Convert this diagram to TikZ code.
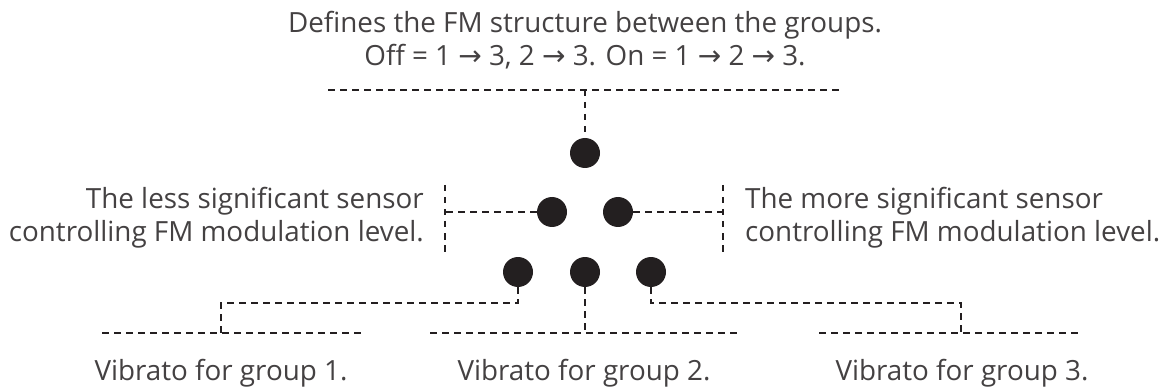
\documentclass[tikz,border=0pt]{standalone}
\usepackage{fontspec}
\setmainfont{Open Sans}
\newfontfamily\arrowfont{DejaVu Sans}
\newcommand{\toarr}{{\arrowfont\fontsize{28}{33}\selectfont →}}
\definecolor{ink}{HTML}{231F20}
\tikzset{
  dot/.style={circle, fill=ink, minimum size=30pt, inner sep=0pt},
  lead/.style={draw=ink, line width=1.3pt, dash pattern=on 6.5pt off 5.5pt},
  note/.style={text=ink!85, font=\fontsize{27.8}{33}\selectfont, inner sep=0pt}
}
\begin{document}
\begin{tikzpicture}[x=1pt,y=-1pt]
    % Fix the canvas to the reference size
    \useasboundingbox (0,0) rectangle (1167,390);
    % Sensor dots
    \node[dot] (top)  at (585,153) {};
    \node[dot] (midl) at (552,212) {};
    \node[dot] (midr) at (618,212) {};
    \node[dot] (botl) at (518,272) {};
    \node[dot] (botm) at (585,272) {};
    \node[dot] (botr) at (651,272) {};
    % Texts (base anchor sits on the last line)
    \node[note, anchor=base, align=center] (fmtext) at (585,66)
        {Defines the FM structure between the groups.\\Off = 1 \toarr{} 3, 2 \toarr{} 3. On = 1 \toarr{} 2 \toarr{} 3.};
    \node[note, anchor=base east, align=right] (lesstext) at (424,241)
        {The less significant sensor\\controlling FM modulation level.};
    \node[note, anchor=base west, align=left] (moretext) at (745,241)
        {The more significant sensor\\controlling FM modulation level.};
    \foreach \x/\n in {221/1, 584/2, 962/3}
        \node[note, anchor=base] (vib\n) at (\x,380) {Vibrato for group \n.};
    % Top leader
    \coordinate (topl) at (328,90);
    \coordinate (topr) at (843,90);
    \coordinate (topj) at (585,90);
    \draw[lead] (topl) -- (topr);
    \draw[lead] (topj) -- (top);
    % Side brackets
    \coordinate (lbt) at (445,185);
    \coordinate (lbb) at (445,252);
    \coordinate (rbt) at (723,185);
    \coordinate (rbb) at (723,252);
    \draw[lead] (lbt) -- (lbb);
    \draw[lead] (rbt) -- (rbb);
    \draw[lead] (midl.west) -- (midl.west -| lbt);
    \draw[lead] (midr.east) -- (midr.east -| rbt);
    % Bottom leaders
    \coordinate (g1l) at (102,333);
    \coordinate (g1r) at (363,333);
    \coordinate (g1k) at (221,303);
    \coordinate (g1j) at (221,333);
    \coordinate (g2l) at (430,333);
    \coordinate (g2r) at (738,333);
    \coordinate (g2j) at (585,333);
    \coordinate (g3l) at (819,333);
    \coordinate (g3r) at (1079,333);
    \coordinate (g3k) at (961,303);
    \coordinate (g3j) at (961,333);
    \draw[lead] (g1l) -- (g1r);
    \draw[lead] (g2l) -- (g2r);
    \draw[lead] (g3l) -- (g3r);
    \draw[lead] (botl.south) |- (g1k) -- (g1j);
    \draw[lead] (botm.south) -- (g2j);
    \draw[lead] (botr.south) |- (g3k) -- (g3j);
\end{tikzpicture}
\end{document}
